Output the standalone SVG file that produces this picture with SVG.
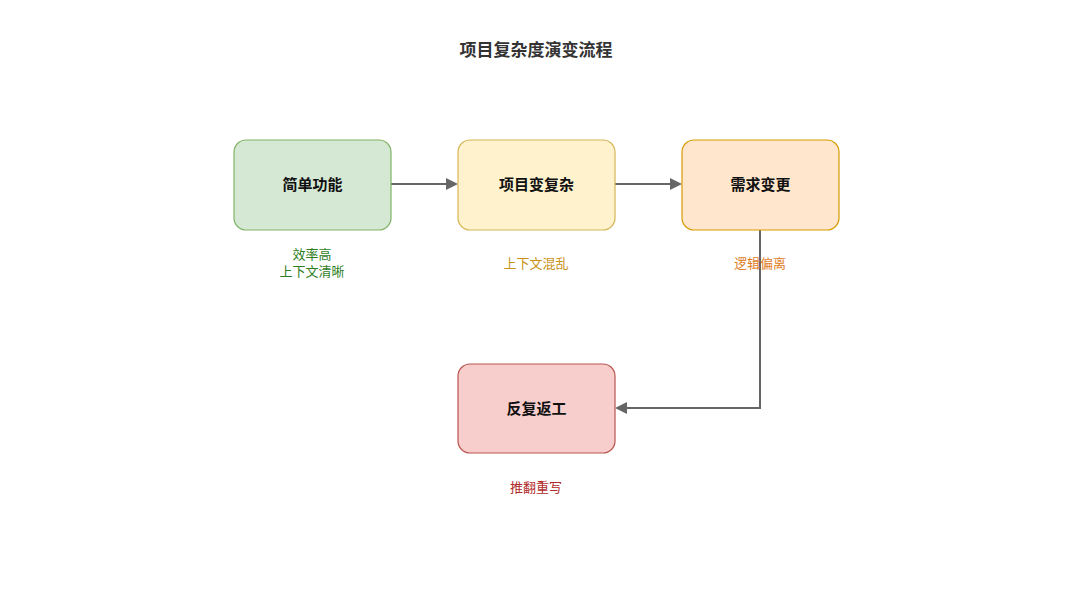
<svg xmlns="http://www.w3.org/2000/svg" width="1080" height="604" viewBox="0 0 1080 604">
<style>
.node{stroke-width:1.2}
.nt{font-family:"Noto Sans CJK SC","Noto Sans",sans-serif;font-size:15px;font-weight:bold;fill:#111;text-anchor:middle;dominant-baseline:central}
.lb{font-family:"Noto Sans CJK SC","Noto Sans",sans-serif;font-size:13px;text-anchor:middle;dominant-baseline:central}
.edge{fill:none;stroke:#666;stroke-width:2}
.head{fill:#666}
</style>
<rect width="1080" height="604" fill="#fff"/>
<text x="536" y="48" font-family="'Noto Sans CJK SC','Noto Sans',sans-serif" font-size="17" font-weight="bold" fill="#333" text-anchor="middle" dominant-baseline="central">项目复杂度演变流程</text>
<g id="connectors">
<path class="edge" d="M391,184 L446,184"/>
<path class="head" d="M446,178 L458,184 L446,190 z"/>
<path class="edge" d="M615,184 L670,184"/>
<path class="head" d="M670,178 L682,184 L670,190 z"/>
<path class="edge" d="M760,230 L760,408 L627,408"/>
<path class="head" d="M627,402 L615,408 L627,414 z"/>
</g>
<g id="n1">
<rect class="node" x="234" y="140" width="157" height="90" rx="12" fill="#d5e8d4" stroke="#82b366"/>
<text class="nt" x="312.5" y="183.5">简单功能</text>
<text class="lb" x="312" y="253.5" fill="#2e7d1e">效率高</text>
<text class="lb" x="312" y="270.5" fill="#2e7d1e">上下文清晰</text>
</g>
<g id="n2">
<rect class="node" x="458" y="140" width="157" height="90" rx="12" fill="#fff2cc" stroke="#d6b656"/>
<text class="nt" x="536.5" y="183.5">项目变复杂</text>
<text class="lb" x="536" y="262" fill="#c8921a">上下文混乱</text>
</g>
<g id="n3">
<rect class="node" x="682" y="140" width="157" height="90" rx="12" fill="#ffe6cc" stroke="#d79b00"/>
<text class="nt" x="760.5" y="183.5">需求变更</text>
<text class="lb" x="760" y="262" fill="#e07b1e">逻辑偏离</text>
</g>
<g id="n4">
<rect class="node" x="458" y="364" width="157" height="89" rx="12" fill="#f8cecc" stroke="#b85450"/>
<text class="nt" x="536.5" y="407.5">反复返工</text>
<text class="lb" x="536" y="486" fill="#b02a2a">推翻重写</text>
</g>
</svg>
